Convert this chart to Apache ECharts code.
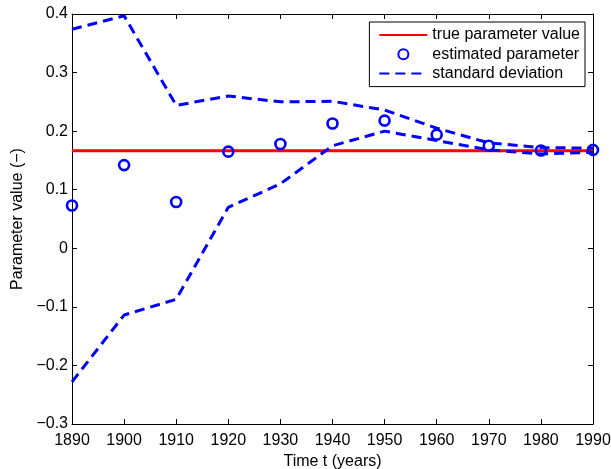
<!DOCTYPE html>
<html>
<head>
<meta charset="utf-8">
<script src="https://cdn.jsdelivr.net/npm/echarts@6/dist/echarts.min.js"></script>
<style>
  html, body { margin: 0; padding: 0; background: #fff; }
  #chart { width: 611px; height: 469px; }
</style>
</head>
<body>
<div id="chart"></div>
<script>
// Observation years
const years = [1890, 1900, 1910, 1920, 1930, 1940, 1950, 1960, 1970, 1980, 1990];
// Parameter estimate at each year
const estimated = [0.073, 0.142, 0.079, 0.165, 0.178, 0.213, 0.218, 0.194, 0.175, 0.167, 0.168];
// Estimate plus / minus one standard deviation
const upperStd = [0.374, 0.397, 0.244, 0.260, 0.250, 0.251, 0.236, 0.205, 0.180, 0.172, 0.171];
const lowerStd = [-0.228, -0.114, -0.087, 0.070, 0.110, 0.175, 0.200, 0.184, 0.168, 0.161, 0.164];
// True parameter value
const trueValue = 1 / 6;
// Axis ranges and ticks: [min, max, interval]
const xTicks = [1890, 1990, 10];
const yTicks = [-0.3, 0.4, 0.1];

const FONT = '"Liberation Sans", Arial, Helvetica, sans-serif';
const FS = 16;
const BLUE = '#0000ff';
const RED = '#ff0000';

const pairs = (vals) => years.map((y, i) => [y, vals[i]]);
const fmtY = (v) => {
  const r = Math.round(v * 10) / 10;
  if (r === 0) return '0';
  return r.toFixed(1).replace('-', '\u2212');
};

// Boxed axes with inward ticks on all four sides
const baseX = {
  type: 'value', min: xTicks[0], max: xTicks[1], interval: xTicks[2],
  axisLine: { show: true, onZero: false, lineStyle: { color: '#000', width: 1 } },
  axisTick: { show: true, inside: true, length: 5, lineStyle: { color: '#000' } },
  splitLine: { show: false }
};
const baseY = {
  type: 'value', min: yTicks[0], max: yTicks[1], interval: yTicks[2],
  axisLine: { show: true, onZero: false, lineStyle: { color: '#000', width: 1 } },
  axisTick: { show: true, inside: true, length: 5, lineStyle: { color: '#000' } },
  splitLine: { show: false }
};

const chart = echarts.init(document.getElementById('chart'), null, { renderer: 'canvas' });
chart.setOption({
  animation: false,
  backgroundColor: '#fff',
  textStyle: { fontFamily: FONT },
  grid: { left: 72, right: 18, top: 14, bottom: 45, containLabel: false, outerBoundsMode: 'none' },
  xAxis: [
    Object.assign({}, baseX, {
      position: 'bottom',
      name: 'Time t (years)', nameLocation: 'middle', nameGap: 27,
      nameTextStyle: { color: '#000', fontSize: FS, fontFamily: FONT },
      axisLabel: { color: '#000', fontSize: FS, fontFamily: FONT, margin: 9, formatter: (v) => String(v) }
    }),
    Object.assign({}, baseX, { position: 'top', axisLabel: { show: false } })
  ],
  yAxis: [
    Object.assign({}, baseY, {
      position: 'left',
      name: 'Parameter value (\u2212)', nameLocation: 'middle', nameGap: 41,
      nameTextStyle: { color: '#000', fontSize: FS, fontFamily: FONT },
      axisLabel: { color: '#000', fontSize: FS, fontFamily: FONT, margin: 4, formatter: fmtY }
    }),
    Object.assign({}, baseY, { position: 'right', axisLabel: { show: false } })
  ],
  legend: {
    orient: 'vertical',
    right: 26, top: 22,
    padding: [5, 5, 5, 9],
    itemWidth: 48, itemHeight: 10, itemGap: 3.3,
    backgroundColor: '#fff',
    borderColor: '#000', borderWidth: 1, borderRadius: 0,
    textStyle: { color: '#000', fontSize: FS, fontFamily: FONT, lineHeight: 16 },
    data: [
      { name: 'true parameter value', itemStyle: { opacity: 0 } },
      { name: 'estimated parameter', icon: 'circle' },
      { name: 'standard deviation', itemStyle: { opacity: 0 } }
    ]
  },
  series: [
    {
      name: 'true parameter value', type: 'line',
      data: [[xTicks[0], trueValue], [xTicks[1], trueValue]],
      symbol: 'none',
      lineStyle: { color: RED, width: 3 },
      itemStyle: { color: RED },
      z: 2
    },
    {
      name: 'estimated parameter', type: 'scatter',
      data: pairs(estimated),
      symbol: 'circle', symbolSize: 10,
      itemStyle: { color: 'rgba(0,0,0,0)', borderColor: BLUE, borderWidth: 2.6, opacity: 1 },
      z: 3
    },
    {
      name: 'standard deviation', type: 'line',
      data: pairs(upperStd),
      symbol: 'none',
      lineStyle: { color: BLUE, width: 3, type: [10, 6] },
      itemStyle: { color: BLUE },
      z: 4
    },
    {
      name: 'standard deviation', type: 'line',
      data: pairs(lowerStd),
      symbol: 'none',
      lineStyle: { color: BLUE, width: 3, type: [10, 6] },
      itemStyle: { color: BLUE },
      z: 4
    }
  ]
});
</script>
</body>
</html>
